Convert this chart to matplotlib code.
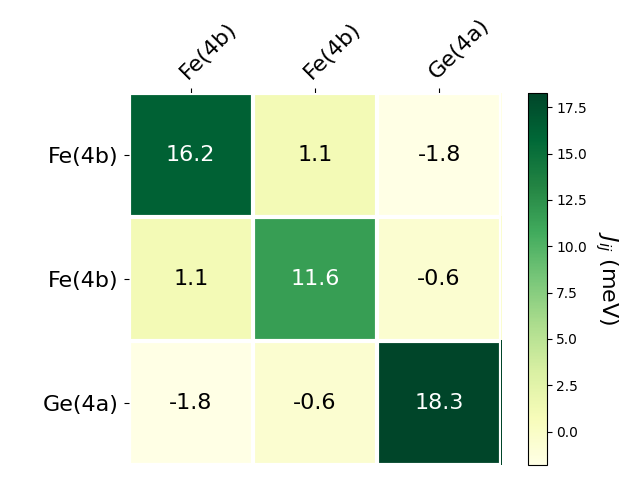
import numpy as np
import matplotlib
matplotlib.use("Agg")
import matplotlib.pyplot as plt

row_labels = ["Fe(4b)", "Fe(4b)", "Ge(4a)"]
col_labels = ["Fe(4b)", "Fe(4b)", "Ge(4a)"]
jij = np.array([[16.2, 1.1, -1.8],
                [1.1, 11.6, -0.6],
                [-1.8, -0.6, 18.3]])

fig, ax = plt.subplots(figsize=(6.4, 4.8))
im = ax.imshow(jij, cmap="YlGn")
cbar = fig.colorbar(im, ax=ax)
cbar.ax.set_ylabel(r"$J_{ij}$ (meV)", rotation=-90, va="bottom", fontsize=16)

ax.set_xticks(np.arange(jij.shape[1]))
ax.set_yticks(np.arange(jij.shape[0]))
ax.set_xticklabels(col_labels, fontsize=16)
ax.set_yticklabels(row_labels, fontsize=16)
ax.tick_params(top=True, bottom=False, labeltop=True, labelbottom=False)
plt.setp(ax.get_xticklabels(), rotation=45, ha="left", rotation_mode="anchor")

for s in ax.spines.values():
    s.set_visible(False)
ax.set_xticks(np.arange(jij.shape[1] + 1) - .5, minor=True)
ax.set_yticks(np.arange(jij.shape[0] + 1) - .5, minor=True)
ax.grid(which="minor", color="w", linestyle="-", linewidth=3)
ax.tick_params(which="minor", bottom=False, left=False, top=False)

thresh = im.norm(jij.max()) / 2.
for i in range(jij.shape[0]):
    for j in range(jij.shape[1]):
        c = "white" if im.norm(jij[i, j]) > thresh else "black"
        ax.text(j, i, f"{jij[i, j]:.1f}", ha="center", va="center", color=c, fontsize=16)

fig.tight_layout()
plt.savefig("out.png")
